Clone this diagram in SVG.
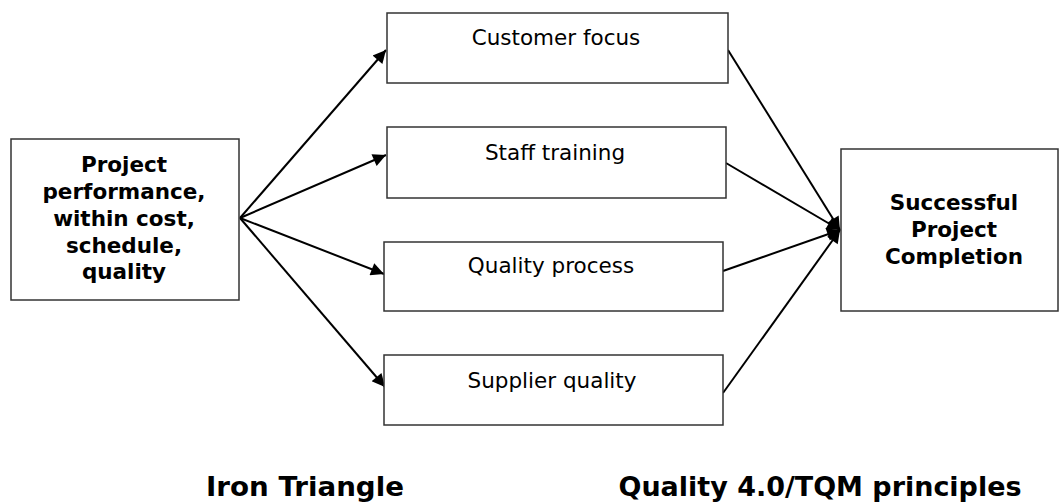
<svg xmlns="http://www.w3.org/2000/svg" width="1061" height="502" viewBox="0 0 1061 502">
  <style>
    .box { fill: #ffffff; stroke: #333333; stroke-width: 1.5; }
    .lbl { font-family: "DejaVu Sans", Verdana, sans-serif; font-size: 21.5px; fill: #000000; text-anchor: middle; }
    .bold { font-weight: bold; }
    .cap { font-family: "DejaVu Sans", Verdana, sans-serif; font-weight: bold; font-size: 27px; fill: #000000; text-anchor: middle; }
    .edge { stroke: #000000; stroke-width: 2; fill: none; marker-end: url(#arrow); }
  </style>
  <defs>
    <marker id="arrow" viewBox="0 0 10 10" refX="10" refY="5" markerWidth="8.5" markerHeight="6.5" markerUnits="strokeWidth" orient="auto">
      <path d="M0,0 L10,5 L0,10 z" fill="#000000"/>
    </marker>
  </defs>
  <rect width="1061" height="502" fill="#ffffff"/>

  <g id="connectors">
    <line class="edge" x1="240" y1="218" x2="386" y2="50"/>
    <line class="edge" x1="240" y1="218" x2="386" y2="155"/>
    <line class="edge" x1="240" y1="218" x2="384" y2="274"/>
    <line class="edge" x1="240" y1="218" x2="385" y2="387"/>
    <line class="edge" x1="728" y1="50" x2="840" y2="230"/>
    <line class="edge" x1="726" y1="163" x2="840" y2="230"/>
    <line class="edge" x1="723" y1="271" x2="840" y2="230"/>
    <line class="edge" x1="723" y1="393" x2="840" y2="230"/>
  </g>

  <g id="node-performance">
    <rect class="box" x="11" y="139" width="228" height="161"/>
    <text class="lbl bold" x="124" y="172">Project</text>
    <text class="lbl bold" x="124" y="199">performance,</text>
    <text class="lbl bold" x="124" y="226">within cost,</text>
    <text class="lbl bold" x="124" y="253">schedule,</text>
    <text class="lbl bold" x="124" y="279">quality</text>
  </g>

  <g id="node-customer">
    <rect class="box" x="387" y="13" width="341" height="70"/>
    <text class="lbl" x="556" y="45">Customer focus</text>
  </g>

  <g id="node-staff">
    <rect class="box" x="387" y="127" width="339" height="71"/>
    <text class="lbl" x="555" y="160">Staff training</text>
  </g>

  <g id="node-process">
    <rect class="box" x="384" y="242" width="339" height="69"/>
    <text class="lbl" x="551" y="273">Quality process</text>
  </g>

  <g id="node-supplier">
    <rect class="box" x="384" y="355" width="339" height="70"/>
    <text class="lbl" x="552" y="388">Supplier quality</text>
  </g>

  <g id="node-success">
    <rect class="box" x="841" y="149" width="217" height="162"/>
    <text class="lbl bold" x="954" y="210">Successful</text>
    <text class="lbl bold" x="954" y="237">Project</text>
    <text class="lbl bold" x="954" y="264">Completion</text>
  </g>

  <g id="captions">
    <text class="cap" x="305" y="496" textLength="198" lengthAdjust="spacingAndGlyphs">Iron Triangle</text>
    <text class="cap" x="820" y="496" textLength="403" lengthAdjust="spacingAndGlyphs">Quality 4.0/TQM principles</text>
  </g>
</svg>
